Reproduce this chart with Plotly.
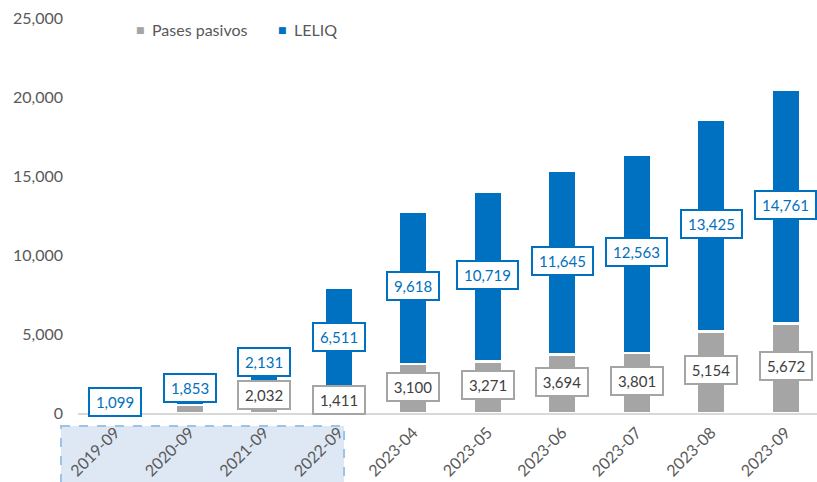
import plotly.graph_objects as go

# Stock of remunerated liabilities: passive repos and LELIQ
categories = ["2019-09", "2020-09", "2021-09", "2022-09", "2023-04",
              "2023-05", "2023-06", "2023-07", "2023-08", "2023-09"]
pases = [0, 520, 2032, 1411, 3100, 3271, 3694, 3801, 5154, 5672]
leliq = [1099, 1853, 2131, 6511, 9618, 10719, 11645, 12563, 13425, 14761]
pases_labeled = [False, False, True, True, True, True, True, True, True, True]
y_ticks = [0, 5000, 10000, 15000, 20000, 25000]

GRAY = "#A5A5A5"
BLUE = "#0070C0"
TEXT = "#595959"
FONT = "Lato, 'Noto Sans', sans-serif"

fig = go.Figure()
fig.add_bar(x=categories, y=pases, name="Pases pasivos", marker_color=GRAY,
            marker_line=dict(color="white", width=2.5), width=0.385,
            showlegend=False)
fig.add_bar(x=categories, y=leliq, name="LELIQ", marker_color=BLUE,
            marker_line=dict(color="white", width=2.5), width=0.385,
            showlegend=False)


def box_width(label):
    return 46 if len(label) <= 5 else 55


annotations = []
for i, cat in enumerate(categories):
    if pases_labeled[i]:
        lab = f"{pases[i]:,}"
        annotations.append(dict(
            x=cat, y=pases[i] / 2, xref="x", yref="y", text=lab,
            showarrow=False, yshift=2, font=dict(family=FONT, size=15, color="#404040"),
            bgcolor="white", bordercolor=GRAY, borderwidth=2, borderpad=2,
            width=box_width(lab), height=22))
    lab = f"{leliq[i]:,}"
    annotations.append(dict(
        x=cat, y=pases[i] + leliq[i] / 2, xref="x", yref="y", text=lab,
        showarrow=False, yshift=2, font=dict(family=FONT, size=15, color=BLUE),
        bgcolor="white", bordercolor=BLUE, borderwidth=2, borderpad=2,
        width=box_width(lab), height=22))

# legend entries
for sq_x, txt_x, color, name in [(140, 150, GRAY, "Pases pasivos"),
                                  (282, 292, BLUE, "LELIQ")]:
    annotations.append(dict(
        x=(sq_x - 78) / 739, y=(413 - 30) / 395, xref="paper", yref="paper",
        text="■", showarrow=False, xanchor="center", yanchor="middle",
        font=dict(family="DejaVu Sans", size=9, color=color)))
    annotations.append(dict(
        x=(txt_x - 78) / 739, y=(413 - 29) / 395, xref="paper", yref="paper",
        text=name, showarrow=False, xanchor="left", yanchor="middle",
        font=dict(family=FONT, size=16, color=TEXT)))

fig.update_layout(
    barmode="stack",
    width=817, height=482,
    margin=dict(l=78, r=0, t=18, b=69),
    paper_bgcolor="white", plot_bgcolor="white",
    font=dict(family=FONT, size=16, color=TEXT),
    showlegend=False,
    annotations=annotations,
    # highlighted band behind the yearly (September) categories
    shapes=[dict(type="rect", xref="paper", yref="paper",
                 x0=-0.023, x1=0.36, y0=-0.033, y1=-0.3,
                 fillcolor="#DEE8F5", line=dict(color="#9DC3E6", width=2, dash="dash"),
                 layer="below")],
    xaxis=dict(type="category", range=[-0.5, 9.42], showline=True, automargin=False,
               linecolor="#D9D9D9", linewidth=2, ticks="", tickangle=-45,
               ticklabelstandoff=2, tickfont=dict(family=FONT, size=16, color=TEXT),
               showgrid=False, zeroline=False),
    yaxis=dict(range=[0, 25000], tickvals=y_ticks, tickformat=",", automargin=False,
               showgrid=False, zeroline=False, showline=False, ticks="",
               ticklabelstandoff=14, tickfont=dict(family=FONT, size=16, color=TEXT)),
)

fig.write_html("out.html")
